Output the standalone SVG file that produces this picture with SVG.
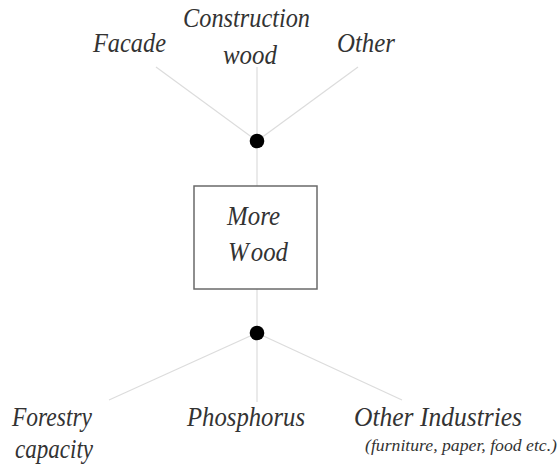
<svg xmlns="http://www.w3.org/2000/svg" width="560" height="466" viewBox="0 0 560 466">
  <style>
    .lbl { font-style: italic; font-size: 28px; fill: #333333; }
    .small { font-size: 17px; }
    .edge { stroke: #dcdcdc; stroke-width: 1.2; fill: none; }
    .hub { fill: #000000; }
    .box { fill: #ffffff; stroke: #6a6a6a; stroke-width: 1.5; }
  </style>
  <rect width="560" height="466" fill="#ffffff"/>

  <!-- connectors -->
  <g id="connectors">
    <line class="edge" x1="257" y1="141" x2="156" y2="67"/>
    <line class="edge" x1="257" y1="141" x2="257" y2="67"/>
    <line class="edge" x1="257" y1="141" x2="358" y2="67"/>
    <line class="edge" x1="257" y1="141" x2="257" y2="186"/>
    <line class="edge" x1="257" y1="289" x2="257" y2="333"/>
    <line class="edge" x1="257" y1="333" x2="109" y2="400"/>
    <line class="edge" x1="257" y1="333" x2="257" y2="402"/>
    <line class="edge" x1="257" y1="333" x2="402" y2="400"/>
  </g>

  <!-- junction dots -->
  <g id="hub-top"><circle class="hub" cx="257" cy="141" r="7.3"/></g>
  <g id="hub-bottom"><circle class="hub" cx="257" cy="333" r="7.3"/></g>

  <g font-family="'Liberation Serif', 'DejaVu Serif', serif">
    <!-- central node -->
    <g id="more-wood">
      <rect class="box" x="194" y="186" width="123" height="103"/>
      <text class="lbl" x="227" y="225" textLength="53" lengthAdjust="spacingAndGlyphs">More</text>
      <text class="lbl" x="228" y="261" textLength="60" lengthAdjust="spacingAndGlyphs">W<tspan dx="5">ood</tspan></text>
    </g>

    <!-- upper branches -->
    <g id="facade">
      <text class="lbl" x="93" y="52" textLength="73" lengthAdjust="spacingAndGlyphs">Facade</text>
    </g>
    <g id="construction-wood">
      <text class="lbl" x="183" y="27" textLength="127" lengthAdjust="spacingAndGlyphs">Construction</text>
      <text class="lbl" x="223" y="64" textLength="54" lengthAdjust="spacingAndGlyphs">wood</text>
    </g>
    <g id="other">
      <text class="lbl" x="337" y="52" textLength="58" lengthAdjust="spacingAndGlyphs">Other</text>
    </g>

    <!-- lower branches -->
    <g id="forestry-capacity">
      <text class="lbl" x="12" y="426" textLength="80" lengthAdjust="spacingAndGlyphs">Forestry</text>
      <text class="lbl" x="15" y="458" textLength="78" lengthAdjust="spacingAndGlyphs">capacity</text>
    </g>
    <g id="phosphorus">
      <text class="lbl" x="187" y="426" textLength="118" lengthAdjust="spacingAndGlyphs">Phosphorus</text>
    </g>
    <g id="other-industries">
      <text class="lbl" x="354" y="426" textLength="168" lengthAdjust="spacingAndGlyphs">Other Industries</text>
      <text class="lbl small" x="365" y="451" textLength="192" lengthAdjust="spacingAndGlyphs">(furniture, paper, food etc.)</text>
    </g>
  </g>
</svg>
